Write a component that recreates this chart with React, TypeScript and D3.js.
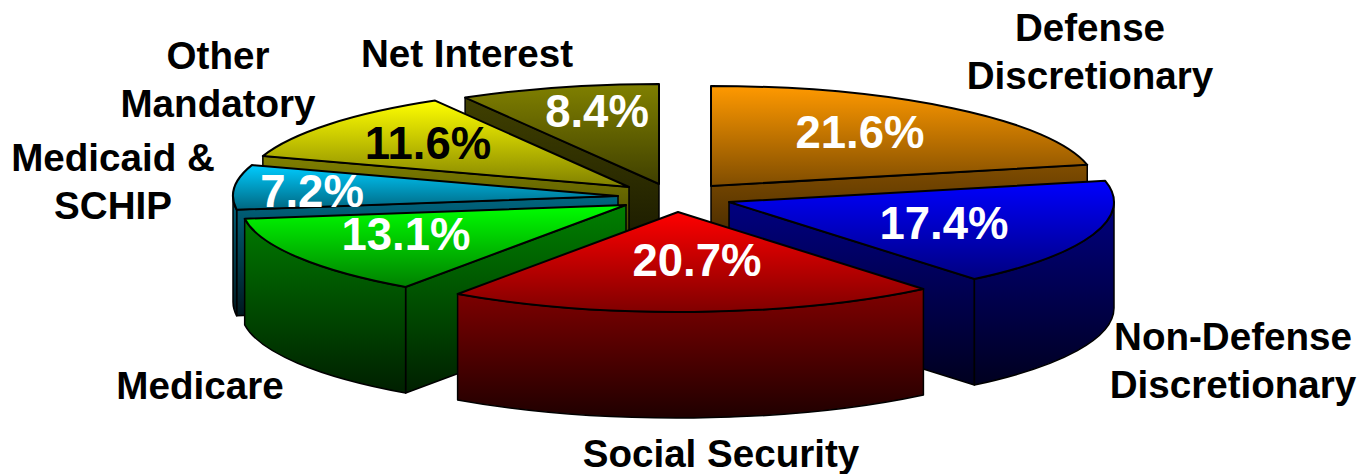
import * as d3 from "d3";

const WIDTH = 1360;
const HEIGHT = 474;

// budget shares, clockwise from the top of the pie
const categories = [
  "Defense Discretionary",
  "Non-Defense Discretionary",
  "Social Security",
  "Medicare",
  "Medicaid & SCHIP",
  "Other Mandatory",
  "Net Interest",
];
const shares = [21.6, 17.4, 20.7, 13.1, 7.2, 11.6, 8.4];
const topColors = ["#ff9900", "#0000ff", "#ff0000", "#00ff00", "#00ccff", "#ffff00", "#808000"];

// pie geometry
const RX = 385;
const RY = 100;
const DEPTH = 106;

// exploded apex of every slice
const APEX: [number, number][] = [
  [711, 186],
  [729, 202],
  [678, 212],
  [626, 205],
  [618, 196],
  [629, 187],
  [659, 184],
];
// back slices get painted first
const PAINT_ORDER = [6, 5, 4, 0, 1, 3, 2];

const PCT_POS: [number, number][] = [
  [860, 148],
  [944, 239],
  [697, 276],
  [406, 250],
  [312, 207],
  [428, 159],
  [597, 127],
];
const PCT_COLORS = ["#fff", "#fff", "#fff", "#fff", "#fff", "#000", "#fff"];

const LABELS: { lines: string[]; x: number; y: number }[] = [
  { lines: ["Defense", "Discretionary"], x: 1090, y: 41 },
  { lines: ["Non-Defense", "Discretionary"], x: 1233, y: 350 },
  { lines: ["Social Security"], x: 721, y: 467 },
  { lines: ["Medicare"], x: 200, y: 398.5 },
  { lines: ["Medicaid &", "SCHIP"], x: 113, y: 171 },
  { lines: ["Other", "Mandatory"], x: 218, y: 69 },
  { lines: ["Net Interest"], x: 467, y: 67 },
];

const FONT = '"Liberation Sans", Arial, sans-serif';

const shade = (c: string, k: number) => {
  const rgb = d3.rgb(c);
  return d3.rgb(rgb.r * k, rgb.g * k, rgb.b * k).formatHex();
};

export default function App() {
  const arcs = d3.pie<number>().sort(null).value((d) => d)(shares);

  const slices = arcs.map((a, i) => {
    const [cx, cy] = APEX[i];
    const pt = (t: number): [number, number] => [cx + RX * Math.sin(t), cy - RY * Math.cos(t)];
    const arcTo = (from: number, to: number, dy = 0) => {
      const [x, y] = pt(to);
      const large = Math.abs(to - from) > Math.PI ? 1 : 0;
      const sweep = to > from ? 1 : 0;
      return `A${RX},${RY} 0 ${large} ${sweep} ${x},${y + dy}`;
    };
    const s = pt(a.startAngle);
    const e = pt(a.endAngle);

    const top = `M${cx},${cy} L${s[0]},${s[1]} ${arcTo(a.startAngle, a.endAngle)} Z`;

    const walls: string[] = [];
    const wallTops: number[] = [];
    // straight cut walls, only the ones turned to the viewer
    if (Math.sin(a.startAngle) < -1e-6) {
      walls.push(`M${cx},${cy} L${s[0]},${s[1]} L${s[0]},${s[1] + DEPTH} L${cx},${cy + DEPTH} Z`);
      wallTops.push(cy, s[1]);
    }
    if (Math.sin(a.endAngle) > 1e-6) {
      walls.push(`M${cx},${cy} L${e[0]},${e[1]} L${e[0]},${e[1] + DEPTH} L${cx},${cy + DEPTH} Z`);
      wallTops.push(cy, e[1]);
    }
    // rim, the part of the arc on the front half
    const from = Math.max(a.startAngle, Math.PI / 2);
    const to = Math.min(a.endAngle, (Math.PI * 3) / 2);
    if (to > from) {
      const p0 = pt(from);
      const p1 = pt(to);
      walls.push(
        `M${p0[0]},${p0[1]} ${arcTo(from, to)} L${p1[0]},${p1[1] + DEPTH} ${arcTo(to, from, DEPTH)} Z`
      );
      wallTops.push(p0[1], p1[1]);
    }

    const ys = d3.range(0, 61).map((k) => pt(a.startAngle + ((a.endAngle - a.startAngle) * k) / 60)[1]);
    ys.push(cy);
    const [yMin, yMax] = d3.extent(ys) as [number, number];

    return { i, top, walls, yMin, yMax, wallTop: d3.min(wallTops) ?? yMin };
  });

  return (
    <svg
      width={WIDTH}
      height={HEIGHT}
      style={{ position: "absolute", left: 0, top: 0, display: "block", background: "#fff" }}
    >
      <defs>
        {slices.map((s) => (
          <g key={s.i}>
            <linearGradient id={`top${s.i}`} gradientUnits="userSpaceOnUse" x1={0} x2={0} y1={s.yMin} y2={s.yMax}>
              <stop offset="0%" stopColor={topColors[s.i]} />
              <stop offset="100%" stopColor={shade(topColors[s.i], 0.5)} />
            </linearGradient>
            <linearGradient
              id={`wall${s.i}`}
              gradientUnits="userSpaceOnUse"
              x1={0}
              x2={0}
              y1={s.wallTop}
              y2={s.yMax + DEPTH}
            >
              <stop offset="0%" stopColor={shade(topColors[s.i], 0.5)} />
              <stop offset="100%" stopColor={shade(topColors[s.i], 0.12)} />
            </linearGradient>
          </g>
        ))}
      </defs>

      {PAINT_ORDER.map((i) => {
        const s = slices[i];
        return (
          <g key={categories[i]} stroke="#000" strokeLinejoin="round">
            {s.walls.map((d, k) => (
              <path key={k} d={d} fill={`url(#wall${i})`} strokeWidth={1.5} />
            ))}
            <path d={s.top} fill={`url(#top${i})`} strokeWidth={2} />
          </g>
        );
      })}

      <g fontFamily={FONT} fontWeight={700} textAnchor="middle">
        {shares.map((v, i) => (
          <text key={i} x={PCT_POS[i][0]} y={PCT_POS[i][1]} fontSize={45.5} fill={PCT_COLORS[i]}>
            {`${d3.format(".1f")(v)}%`}
          </text>
        ))}
        {LABELS.map((l) =>
          l.lines.map((line, k) => (
            <text key={line + l.x} x={l.x} y={l.y + k * 47.5} fontSize={38.6} fill="#000">
              {line}
            </text>
          ))
        )}
      </g>
    </svg>
  );
}
